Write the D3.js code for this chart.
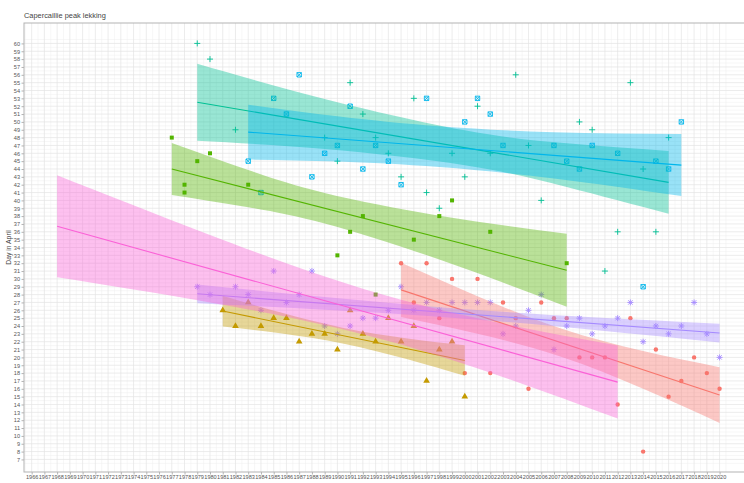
<!DOCTYPE html>
<html>
<head>
<meta charset="utf-8">
<script src="https://cdn.jsdelivr.net/npm/d3@7"></script>
<style>
  body { margin: 0; background: #fff; }
  text { font-family: "Liberation Sans", Arial, sans-serif; }
</style>
</head>
<body>
<div id="chart"></div>
<script>
// observed peak lekking day (day in April) per site, [year, day]
var redPts = [[1995,32],[1996,27],[1997,32],[1998,25],[1999,30],[2000,18],[2001,30],[2002,18],[2003,27],[2004,25],
  [2005,16],[2006,27],[2007,25],[2008,25],[2009,20],[2010,20],[2011,20],[2012,14],[2013,25],[2014,8],
  [2015,21],[2016,15],[2017,17],[2018,20],[2019,18],[2020,16]];
var goldPts = [[1981,26],[1982,24],[1983,27],[1984,24],[1985,25],[1986,25],[1987,22],[1988,23],[1989,23],[1990,21],
  [1991,26],[1992,23],[1993,22],[1994,25],[1995,22],[1996,24],[1997,17],[1998,21],[1999,22],[2000,15]];
var greenPts = [[1977,48],[1978,42],[1978,41],[1979,45],[1980,46],[1983,42],[1990,33],[1991,36],[1992,38],[1993,28],
  [1996,35],[1998,38],[1999,40],[2002,36],[2008,32]];
var tealPts = [[1979,60],[1980,58],[1982,49],[1989,48],[1990,45],[1991,55],[1992,51],[1993,48],[1994,46],[1995,43],
  [1996,53],[1997,41],[1998,39],[1999,46],[2000,43],[2001,52],[2002,46],[2004,56],[2005,47],[2006,40],
  [2009,50],[2010,49],[2011,31],[2012,36],[2013,55],[2014,44],[2015,36],[2016,48]];
var bluePts = [[1983,45],[1984,41],[1985,53],[1986,51],[1987,56],[1988,43],[1989,46],[1990,47],[1991,52],[1992,44],
  [1993,47],[1994,45],[1995,42],[1997,53],[2000,50],[2001,53],[2002,51],[2003,47],[2007,47],[2008,45],
  [2009,44],[2010,47],[2012,46],[2014,29],[2015,45],[2016,44],[2017,50]];
var purplePts = [[1979,29],[1980,28],[1982,29],[1983,28],[1984,26],[1985,31],[1986,27],[1987,28],[1988,31],[1989,24],
  [1990,23],[1991,24],[1992,25],[1993,25],[1994,26],[1995,29],[1996,26],[1997,27],[1998,26],[1999,27],
  [2000,27],[2001,27],[2002,27],[2003,23],[2004,24],[2005,26],[2006,28],[2007,21],[2008,24],[2009,25],
  [2010,23],[2011,24],[2012,25],[2013,27],[2014,22],[2015,24],[2016,23],[2017,24],[2018,27],[2019,23],[2020,20]];
var pinkPts = []; // 7th group has no shape, so no points drawn

// fitted trend lines, [year, day]
var redFit = [[1995,28.6],[2020,15.2]];
var goldFit = [[1981,25.9],[2000,19.6]];
var greenFit = [[1977,44.0],[2008,31.1]];
var tealFit = [[1979,52.5],[2016,42.3]];
var blueFit = [[1983,48.7],[2017,44.5]];
var purpleFit = [[1979,28.1],[2020,23.1]];
var pinkFit = [[1968,36.7],[2012,16.85]];

// confidence bands, [year, low, high]
var redBand = [[1995,25.15,32.05],[2001,23.0,27.8],[2007.5,20.1,23.7],[2014,16.0,20.8],[2020,11.65,18.75]];
var goldBand = [[1981,23.95,27.85],[1985.5,23.08,25.74],[1990.5,21.75,23.75],[1995.5,19.76,22.42],[2000,17.65,21.55]];
var greenBand = [[1977,40.7,47.3],[1983,39.14,43.86],[1989,37.06,40.94],[1998,32.47,38.05],[2008,26.45,35.75]];
var tealBand = [[1979,47.6,57.4],[1989,46.55,52.93],[2000,44.49,48.93],[2008,41.72,47.28],[2016,38.3,46.3]];
var blueBand = [[1983,45.2,52.2],[1990,44.96,50.72],[1998,44.26,49.44],[2007,42.79,48.69],[2017,40.55,48.45]];
var purpleBand = [[1979,26.9,29.3],[1989,26.08,27.68],[1999.5,25.0,26.2],[2010,23.52,25.12],[2020,21.9,24.3]];
var pinkBand = [[1968,30.2,43.2],[1980,27.0,35.6],[1995,21.65,27.35],[2012,12.2,21.5]];

var xTicks = d3.range(1966, 2021);
var yTicks = d3.range(7, 61);

var groups = [
  { color: "#F8766D", shape: "circle",   pts: redPts,    fit: redFit,    band: redBand },
  { color: "#C49A00", shape: "triangle", pts: goldPts,   fit: goldFit,   band: goldBand },
  { color: "#53B400", shape: "square",   pts: greenPts,  fit: greenFit,  band: greenBand },
  { color: "#00C094", shape: "plus",     pts: tealPts,   fit: tealFit,   band: tealBand },
  { color: "#00B6EB", shape: "sqcross",  pts: bluePts,   fit: blueFit,   band: blueBand },
  { color: "#A58AFF", shape: "asterisk", pts: purplePts, fit: purpleFit, band: purpleBand },
  { color: "#FB61D7", shape: null,       pts: pinkPts,   fit: pinkFit,   band: pinkBand }
];

var margin = { top: 23, left: 24 },
    width = 728.7,
    height = 449;

var svg = d3.select("#chart").append("svg")
    .attr("width", 744)
    .attr("height", 483);

svg.append("rect").attr("width", 744).attr("height", 483).attr("fill", "#fff");

var g = svg.append("g")
    .attr("transform", "translate(" + margin.left + "," + margin.top + ")");

var x = d3.scaleLinear().domain([1965.4, 2022.6]).range([0, width]);
var y = d3.scaleLinear().domain([5.4, 62.6]).range([height, 0]);

// grid, minor first
var minorX = xTicks.map(function(d) { return d - 0.5; }).concat([2020.5]);
var minorY = yTicks.map(function(d) { return d - 0.5; }).concat([60.5]);

g.append("g").selectAll("line").data(minorX).enter().append("line")
    .attr("x1", function(d) { return x(d); }).attr("x2", function(d) { return x(d); })
    .attr("y1", 0).attr("y2", height)
    .attr("stroke", "#eeeeee").attr("stroke-width", 0.5);
g.append("g").selectAll("line").data(minorY).enter().append("line")
    .attr("y1", function(d) { return y(d); }).attr("y2", function(d) { return y(d); })
    .attr("x1", 0).attr("x2", width)
    .attr("stroke", "#eeeeee").attr("stroke-width", 0.5);
g.append("g").selectAll("line").data(xTicks).enter().append("line")
    .attr("x1", function(d) { return x(d); }).attr("x2", function(d) { return x(d); })
    .attr("y1", 0).attr("y2", height)
    .attr("stroke", "#e4e4e4").attr("stroke-width", 0.7);
g.append("g").selectAll("line").data(yTicks).enter().append("line")
    .attr("y1", function(d) { return y(d); }).attr("y2", function(d) { return y(d); })
    .attr("x1", 0).attr("x2", width)
    .attr("stroke", "#e4e4e4").attr("stroke-width", 0.7);

// marker shapes
var shapePath = {
  plus: "M-3,0H3M0,-3V3",
  asterisk: "M-3,0H3M0,-3V3M-2.2,-2.2L2.2,2.2M-2.2,2.2L2.2,-2.2",
  sqcross: "M-2.2,-2.2H2.2V2.2H-2.2ZM-2.2,-2.2L2.2,2.2M-2.2,2.2L2.2,-2.2",
  triangle: d3.symbol(d3.symbolTriangle, 19)(),
  square: "M-2,-2H2V2H-2Z"
};

// points go under the smoothers
groups.forEach(function(grp) {
  if (!grp.shape) return;
  var sel = g.append("g").selectAll("path").data(grp.pts).enter();
  if (grp.shape === "circle") {
    sel.append("circle")
      .attr("cx", function(d) { return x(d[0]); })
      .attr("cy", function(d) { return y(d[1]); })
      .attr("r", 2.2)
      .attr("fill", grp.color);
  } else {
    var open = grp.shape === "plus" || grp.shape === "asterisk" || grp.shape === "sqcross";
    sel.append("path")
      .attr("transform", function(d) { return "translate(" + x(d[0]) + "," + y(d[1]) + ")"; })
      .attr("d", shapePath[grp.shape])
      .attr("fill", open ? "none" : grp.color)
      .attr("stroke", open ? grp.color : "none")
      .attr("stroke-width", 0.9);
  }
});

var area = d3.area()
    .x(function(d) { return x(d[0]); })
    .y0(function(d) { return y(d[1]); })
    .y1(function(d) { return y(d[2]); })
    .curve(d3.curveNatural);

var line = d3.line()
    .x(function(d) { return x(d[0]); })
    .y(function(d) { return y(d[1]); });

groups.forEach(function(grp) {
  g.append("path")
    .attr("d", area(grp.band))
    .attr("fill", grp.color)
    .attr("fill-opacity", 0.4);
  g.append("path")
    .attr("d", line(grp.fit))
    .attr("fill", "none")
    .attr("stroke", grp.color)
    .attr("stroke-width", 1.1);
});

// panel border
g.append("rect")
    .attr("width", width).attr("height", height)
    .attr("fill", "none").attr("stroke", "#b3b3b3").attr("stroke-width", 1);

// axes
var yAxis = g.append("g")
    .call(d3.axisLeft(y).tickValues(yTicks).tickSize(2.5).tickPadding(1.5));
var xAxis = g.append("g")
    .attr("transform", "translate(0," + height + ")")
    .call(d3.axisBottom(x).tickValues(xTicks).tickFormat(d3.format("d")).tickSize(2.5).tickPadding(1));

[yAxis, xAxis].forEach(function(a) {
  a.select(".domain").remove();
  a.selectAll(".tick line").attr("stroke", "#b3b3b3");
  a.selectAll("text").attr("fill", "#555").style("font-size", "5.6px");
});

// y axis label
svg.append("text")
    .attr("transform", "rotate(-90)")
    .attr("x", -(margin.top + height / 2))
    .attr("y", 11)
    .style("text-anchor", "middle")
    .style("font-size", "6.8px")
    .attr("fill", "#444")
    .text("Day in April");

// title
svg.append("text")
    .attr("x", margin.left)
    .attr("y", 18)
    .style("font-size", "7.4px")
    .attr("fill", "#444")
    .text("Capercaillie peak lekking");
</script>
</body>
</html>
